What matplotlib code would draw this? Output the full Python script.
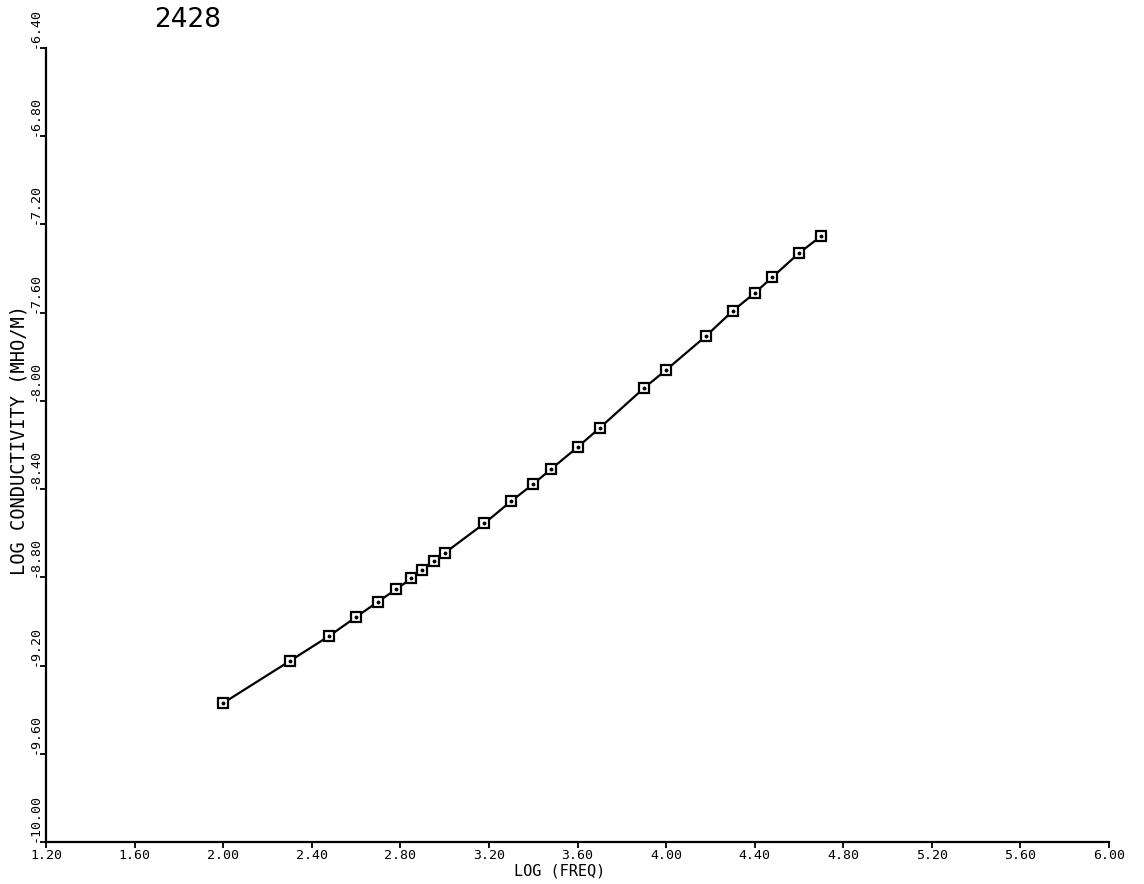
import matplotlib
matplotlib.use("Agg")
import matplotlib.pyplot as plt

# Data
log_freq = [2.00, 2.30, 2.48, 2.60, 2.70, 2.78, 2.85, 2.90, 2.95, 3.00,
            3.18, 3.30, 3.40, 3.48, 3.60, 3.70, 3.90, 4.00, 4.18, 4.30,
            4.40, 4.48, 4.60, 4.70]
log_cond = [-9.37, -9.18, -9.065, -8.98, -8.91, -8.855, -8.805, -8.765, -8.725, -8.69,
            -8.555, -8.455, -8.377, -8.31, -8.21, -8.123, -7.942, -7.86, -7.706, -7.593,
            -7.511, -7.439, -7.33, -7.253]

x_ticks = [1.20, 1.60, 2.00, 2.40, 2.80, 3.20, 3.60, 4.00, 4.40, 4.80, 5.20, 5.60, 6.00]
y_ticks = [-10.00, -9.60, -9.20, -8.80, -8.40, -8.00, -7.60, -7.20, -6.80, -6.40]
x_tick_labels = ["%.2f" % v for v in x_ticks]
y_tick_labels = ["%.2f" % v for v in y_ticks]

title_text = "2428"
x_label = "LOG (FREQ)"
y_label = "LOG CONDUCTIVITY (MHO/M)"

mono = "DejaVu Sans Mono"
W, H = 1144, 884

fig = plt.figure(figsize=(W / 100, H / 100), dpi=100)
ax = fig.add_axes([46 / W, 1 - 842 / H, (1109 - 46) / W, (842 - 48) / H])

ax.plot(log_freq, log_cond, color="black", lw=1.6, zorder=2)
ax.plot(log_freq, log_cond, ls="none", marker="s", markersize=6.8,
        markerfacecolor="white", markeredgecolor="black", markeredgewidth=1.6, zorder=3)
ax.plot(log_freq, log_cond, ls="none", marker="o", markersize=1.8,
        color="black", zorder=4)

ax.set_xlim(x_ticks[0], x_ticks[-1])
ax.set_ylim(y_ticks[0], y_ticks[-1])
ax.set_xticks(x_ticks)
ax.set_xticklabels(x_tick_labels, fontfamily=mono, fontsize=9.5)
ax.set_yticks(y_ticks)
ax.set_yticklabels(y_tick_labels, fontfamily=mono, fontsize=9.5, rotation=90,
                   va="bottom", ha="center")

for side in ("top", "right"):
    ax.spines[side].set_visible(False)
for side in ("left", "bottom"):
    ax.spines[side].set_linewidth(1.6)
    ax.spines[side].set_color("black")

ax.tick_params(axis="x", direction="out", length=4, width=1.3, pad=1)
ax.tick_params(axis="y", direction="out", length=4, width=1.3, pad=4)

fig.text(560 / W, 1 - 871 / H, x_label, fontfamily=mono, fontsize=11,
         ha="center", va="center")
fig.text(19 / W, 1 - 440 / H, y_label, fontfamily=mono, fontsize=13.5,
         ha="center", va="center", rotation=90)

fig.text(188 / W, 1 - 20 / H, title_text, fontsize=19, ha="center", va="center",
         fontfamily="DejaVu Sans")

fig.savefig("out.png", dpi=100, facecolor="white")
